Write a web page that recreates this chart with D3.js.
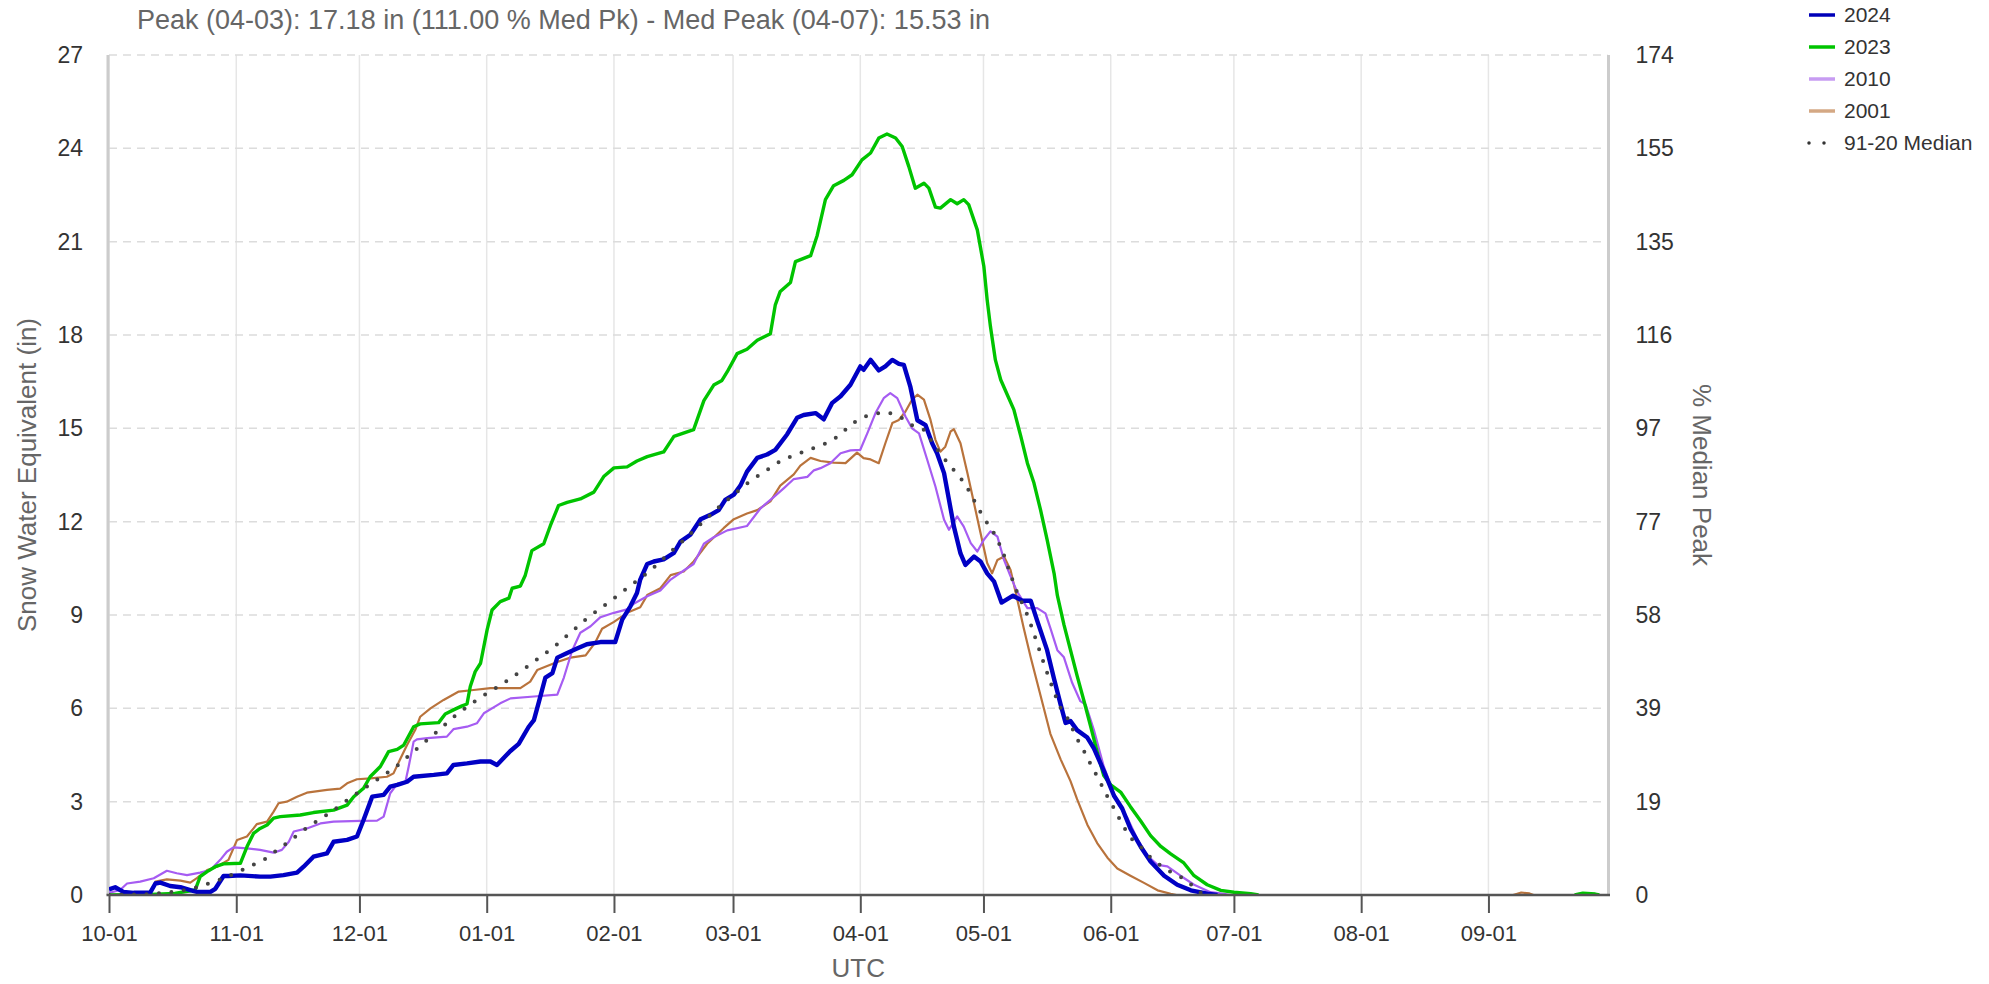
<!DOCTYPE html>
<html>
<head>
<meta charset="utf-8">
<script src="https://cdn.jsdelivr.net/npm/d3@7"></script>
<style>
  html, body { margin: 0; padding: 0; background: #fff; }
  svg { display: block; font-family: "Liberation Sans", Arial, sans-serif; }
</style>
</head>
<body>
<svg id="chart" width="1989" height="984"></svg>
<script>
// ---------------- DATA (day offset from 2023-10-01, SWE inches) ----------------
const titleText = "Peak (04-03): 17.18 in (111.00 % Med Pk) - Med Peak (04-07): 15.53 in";
const medianPeak = 15.53;
const yTicks = [0, 3, 6, 9, 12, 15, 18, 21, 24, 27];
const seriesNames = ["2024", "2023", "2010", "2001", "91-20 Median"];

const s2024 = [[0,0.18],[1.5,0.25],[3.5,0.1],[6,0.07],[10,0.07],[11.3,0.37],[12.5,0.4],[14.9,0.29],[17.4,0.25],[19.8,0.16],[21.4,0.1],[24.7,0.1],[25.9,0.2],[27.9,0.61],[29.1,0.61],[32,0.63],[36.8,0.59],[39.3,0.59],[42.5,0.64],[45.8,0.72],[47.4,0.91],[49.8,1.23],[53.1,1.34],[54.7,1.71],[58,1.77],[60.4,1.88],[62,2.41],[64.1,3.16],[66.9,3.22],[68.5,3.48],[70.2,3.54],[72.6,3.64],[74.2,3.8],[79.1,3.86],[82.3,3.91],[83.9,4.18],[87.2,4.23],[90.5,4.29],[92.9,4.29],[94.5,4.18],[97.7,4.62],[99.8,4.86],[102.2,5.4],[103.5,5.62],[104.7,6.2],[106.3,6.99],[108,7.13],[109.2,7.63],[111.6,7.78],[114,7.92],[116.4,8.06],[119.7,8.13],[123.3,8.13],[125,8.85],[127,9.28],[128.6,9.71],[129.4,10.14],[131.1,10.64],[132.7,10.72],[135.1,10.79],[137.6,11.0],[139.2,11.36],[141.6,11.58],[144.1,12.08],[146.5,12.22],[148.5,12.37],[150.1,12.7],[152.2,12.87],[153.8,13.16],[155.4,13.61],[157.9,14.05],[160.3,14.16],[162.3,14.31],[165.2,14.81],[167.6,15.34],[169.2,15.43],[172.1,15.49],[174.1,15.29],[176.1,15.81],[178.2,16.03],[180.6,16.4],[183,16.99],[183.8,16.88],[185.5,17.2],[187.5,16.86],[189.1,16.99],[190.8,17.2],[192.4,17.07],[193.6,17.04],[195.2,16.33],[196.9,15.26],[198.9,15.1],[200.5,14.52],[201.7,14.2],[203.4,13.56],[204.6,12.7],[205.8,11.84],[207.4,10.98],[208.6,10.61],[210.7,10.88],[212.3,10.72],[213.9,10.34],[215.6,10.07],[217.4,9.4],[220.2,9.62],[222.4,9.46],[224.5,9.46],[226.1,8.81],[228.5,7.87],[230.2,6.94],[231.8,6.12],[233,5.53],[234.2,5.59],[235.8,5.3],[238.3,5.06],[239.9,4.71],[242.3,4.0],[244.8,3.19],[246.8,2.78],[248.8,2.13],[251.3,1.55],[253.7,1.08],[257,0.62],[260.2,0.33],[263.5,0.15],[267.5,0.04],[270,0]];

const s2023 = [[0,0],[10,0.02],[16,0.05],[21,0.16],[22.2,0.59],[23.9,0.75],[25.9,0.91],[27.9,1.0],[32,1.02],[33.6,1.55],[35.2,1.98],[36.8,2.14],[38.5,2.25],[40.1,2.47],[41.7,2.52],[46.6,2.57],[49.8,2.65],[54.7,2.73],[58,2.89],[59.6,3.16],[62,3.43],[63.6,3.8],[66.1,4.13],[68.1,4.61],[70.2,4.68],[71.8,4.82],[74.2,5.41],[75.8,5.5],[80.3,5.54],[81.9,5.82],[83.9,5.95],[86,6.08],[87.2,6.14],[88,6.7],[89.2,7.18],[90.5,7.45],[92.1,8.52],[93.3,9.16],[95.3,9.43],[97.4,9.54],[98.2,9.86],[100.2,9.93],[101.4,10.28],[103,11.07],[105.9,11.29],[107.5,11.87],[109.5,12.52],[111.6,12.62],[114.8,12.73],[118.1,12.95],[120.5,13.45],[123,13.73],[126.2,13.76],[128.6,13.95],[131.1,14.09],[135.1,14.24],[137.6,14.74],[142.4,14.96],[144.9,15.89],[147.3,16.39],[149.3,16.54],[150.6,16.82],[153,17.4],[155.4,17.54],[157.9,17.83],[161.1,18.04],[162.3,18.97],[163.5,19.4],[166,19.69],[167.2,20.36],[170.9,20.55],[172.5,21.2],[174.5,22.35],[176.5,22.8],[179,22.97],[181,23.15],[183.4,23.63],[185.5,23.85],[187.5,24.33],[189.5,24.46],[191.6,24.33],[193.2,24.06],[194.8,23.42],[196.4,22.72],[198.5,22.88],[199.7,22.72],[201.3,22.11],[202.5,22.08],[205,22.35],[206.6,22.22],[208.2,22.35],[209.4,22.19],[211.5,21.38],[213.1,20.2],[213.9,19.13],[214.7,18.27],[215.9,17.2],[217.2,16.56],[218.8,16.08],[220.4,15.6],[222.1,14.74],[223.7,13.88],[225.3,13.24],[226.9,12.38],[228.5,11.42],[230.2,10.34],[231,9.63],[232.6,8.69],[234.2,7.87],[235.8,7.05],[237.5,6.23],[239.1,5.42],[240.7,4.6],[242.3,3.84],[244,3.54],[246.4,3.31],[248.8,2.84],[251.3,2.38],[253.7,1.91],[256.2,1.56],[258.6,1.32],[261.8,1.03],[264.3,0.62],[267.5,0.33],[270.8,0.15],[274,0.09],[278.1,0.04],[280,0],[281,null],[357,0],[359,0.06],[362,0.03],[363,0]];

const s2010 = [[0,0.07],[2.7,0.16],[4.4,0.37],[7.6,0.43],[10.9,0.54],[14.1,0.78],[16.5,0.7],[19,0.64],[22.2,0.72],[24.7,0.8],[27.1,1.13],[28.7,1.39],[30.3,1.53],[33.6,1.5],[36.8,1.45],[40.1,1.36],[42.1,1.45],[43.8,1.71],[45,2.04],[48.2,2.14],[51.5,2.3],[54.7,2.36],[61.2,2.38],[65.3,2.39],[66.9,2.52],[68.5,3.27],[70.2,3.57],[72.2,3.64],[73,4.13],[74.2,4.93],[75,5.0],[77.5,5.04],[82.3,5.09],[83.9,5.33],[87.2,5.41],[89.6,5.52],[91.3,5.84],[95.3,6.16],[97.8,6.32],[103.5,6.38],[109.2,6.44],[110.8,6.99],[112.8,7.85],[114.8,8.43],[117.3,8.64],[119.7,8.93],[123,9.07],[126.2,9.18],[127.8,9.36],[131.1,9.6],[134.3,9.79],[136.8,10.14],[140,10.43],[142.4,10.64],[144.9,11.29],[147.3,11.5],[150.6,11.72],[155.4,11.86],[158.7,12.43],[161.9,12.79],[164.4,13.08],[166.8,13.37],[170.1,13.44],[171.7,13.65],[173.3,13.72],[175.7,13.88],[178.2,14.2],[180.6,14.29],[183,14.31],[184.7,14.84],[186.7,15.49],[188.7,15.97],[190.3,16.13],[192,15.97],[194,15.38],[195.6,15.0],[197.3,14.84],[199.3,13.99],[201.3,13.13],[203.4,12.06],[204.6,11.74],[206.6,12.17],[208.2,11.84],[209.9,11.31],[211.5,11.04],[213.1,11.42],[214.7,11.69],[216.4,11.52],[218,10.77],[219.6,10.24],[221.2,9.75],[223.7,9.22],[226.1,9.22],[228.1,9.05],[229.3,8.58],[231,7.87],[232.6,7.64],[234.6,6.82],[236.6,6.23],[237.9,6.12],[239.9,5.3],[242.3,4.13],[244,3.54],[245.6,2.96],[248,2.49],[250.5,1.79],[252.9,1.27],[255.4,0.97],[257.8,0.92],[261,0.62],[264.3,0.33],[268.3,0.09],[271.6,0.04],[273,0]];

const s2001 = [[0,0],[10,0.03],[11.3,0.43],[14.1,0.5],[17.4,0.46],[19.8,0.4],[21.4,0.54],[23.9,0.8],[26.3,0.91],[29.1,1.13],[31.2,1.77],[33.6,1.88],[35.2,2.14],[36,2.28],[38.5,2.36],[40.1,2.68],[41.3,2.95],[43.3,3.0],[45.8,3.16],[48.2,3.29],[53.1,3.38],[56.3,3.42],[58,3.59],[60.4,3.72],[63.7,3.75],[67.7,3.8],[69.3,3.91],[71,4.39],[72.6,4.82],[74.6,5.31],[75.8,5.73],[78.3,6.0],[81.5,6.27],[85.2,6.54],[88.8,6.59],[92.9,6.65],[100.2,6.65],[102.6,6.86],[104.3,7.23],[107.5,7.4],[109.2,7.49],[112.4,7.63],[116.1,7.7],[118.5,8.13],[120.1,8.56],[123,8.78],[126.2,9.07],[129.4,9.25],[131.1,9.64],[134.3,9.86],[136.8,10.28],[140,10.4],[142.4,10.72],[145.7,11.29],[149.7,11.79],[152.2,12.08],[155.4,12.26],[157.9,12.37],[161.1,12.65],[163.5,13.16],[166.8,13.52],[168.4,13.8],[170.9,14.05],[173.3,13.95],[176.5,13.9],[179.4,13.88],[182.2,14.22],[183.8,14.04],[185.5,14.0],[187.5,13.88],[189.1,14.52],[190.8,15.17],[192.4,15.27],[194,15.54],[195.6,15.92],[196.9,16.08],[198.5,15.92],[200.1,15.27],[201.3,14.63],[202.5,14.25],[203.7,14.41],[205,14.9],[205.8,14.97],[207.4,14.52],[209.1,13.56],[210.7,12.59],[212.3,11.63],[213.9,10.67],[215.1,10.34],[216.4,10.77],[218,10.88],[219.6,10.45],[221.2,9.52],[222.8,8.58],[224.5,7.64],[226.1,6.82],[227.7,6.0],[229.3,5.18],[231.8,4.36],[234.2,3.66],[235.8,3.08],[238.3,2.26],[240.7,1.67],[243.2,1.2],[245.6,0.85],[248.8,0.62],[252.1,0.39],[255.4,0.15],[258.6,0.04],[260,0],[261,null],[342,0],[344,0.08],[346,0.05],[347,0]];

const sMedian = [[0,0],[10,0.03],[13.7,0.07],[19.8,0.18],[26.3,0.45],[32.1,0.78],[37.9,1.15],[43.2,1.66],[48.4,2.18],[53.9,2.65],[59.2,3.16],[64.6,3.64],[70,4.13],[74.8,4.68],[79.9,5.25],[84.8,5.82],[90.1,6.32],[95.7,6.77],[101,7.26],[106.3,7.77],[109,8.04],[116.3,8.88],[121.5,9.39],[131.9,10.43],[140.8,11.51],[143.7,11.87],[148.9,12.51],[155.9,13.28],[164,13.99],[173.3,14.45],[176.1,14.6],[178.6,14.86],[181.1,15.16],[183.8,15.37],[187,15.48],[189,15.53],[190.1,15.5],[193.1,15.33],[195.6,15.1],[198.5,14.95],[200.5,14.57],[202.1,14.25],[204.2,13.9],[206.4,13.56],[208.4,13.24],[210,12.86],[211.5,12.49],[213.1,12.11],[215.1,11.74],[216.6,11.36],[218,10.92],[219.6,10.3],[221.2,9.73],[223.9,8.94],[226,8.12],[228.1,7.29],[230.3,6.48],[231.8,6.01],[233.6,5.66],[235,5.25],[236.5,4.84],[238.1,4.49],[239.5,4.08],[241.1,3.73],[242.5,3.32],[244.1,2.96],[245.7,2.55],[247.4,2.14],[249.2,1.79],[251.7,1.5],[253.7,1.2],[256.5,0.91],[259.4,0.68],[262.2,0.5],[265.5,0.1],[267.5,0]];

// ---------------- LAYOUT ----------------
const svg = d3.select("#chart");
const W = 1989, H = 984;
const plot = { left: 109, right: 1607.5, top: 55, bottom: 895 };
const start = new Date(Date.UTC(2023, 9, 1));
const end = new Date(Date.UTC(2024, 8, 30));
const toDate = d => new Date(start.getTime() + d * 864e5);

const x = d3.scaleUtc().domain([start, end]).range([plot.left, plot.right]);
const y = d3.scaleLinear().domain([0, 27]).range([plot.bottom, plot.top]);
const yPct = d3.scaleLinear().domain([0, 27 / medianPeak * 100]).range([plot.bottom, plot.top]);
const monthTicks = d3.utcMonths(start, new Date(Date.UTC(2024, 8, 2)));

// vertical grid (months)
svg.append("g").selectAll("line").data(monthTicks).join("line")
  .attr("x1", d => x(d)).attr("x2", d => x(d))
  .attr("y1", plot.top).attr("y2", plot.bottom)
  .attr("stroke", "#e6e6e6").attr("stroke-width", 1.5);

// horizontal dashed grid
svg.append("g").selectAll("line").data(yTicks.filter(v => v > 0)).join("line")
  .attr("x1", plot.left).attr("x2", plot.right)
  .attr("y1", d => y(d)).attr("y2", d => y(d))
  .attr("stroke", "#dcdcdc").attr("stroke-width", 1.5)
  .attr("stroke-dasharray", "8,6");

// plot borders left / right
svg.append("line").attr("x1", plot.left - 1).attr("x2", plot.left - 1)
  .attr("y1", plot.top).attr("y2", plot.bottom)
  .attr("stroke", "#cccccc").attr("stroke-width", 3);
svg.append("line").attr("x1", plot.right + 1).attr("x2", plot.right + 1)
  .attr("y1", plot.top).attr("y2", plot.bottom)
  .attr("stroke", "#cccccc").attr("stroke-width", 3);

// clip
svg.append("defs").append("clipPath").attr("id", "clip")
  .append("rect").attr("x", plot.left).attr("y", plot.top - 5)
  .attr("width", plot.right - plot.left).attr("height", plot.bottom - plot.top + 4);

const line = d3.line()
  .defined(d => d[1] !== null)
  .x(d => x(toDate(d[0])))
  .y(d => y(d[1]));

const series = [
  { name: "2001", data: s2001, color: "#b9733c", width: 2.2 },
  { name: "2010", data: s2010, color: "#a65cf2", width: 2.2 },
  { name: "2023", data: s2023, color: "#00c400", width: 3.4 },
  { name: "2024", data: s2024, color: "#0000c4", width: 4.4 },
];

const gLines = svg.append("g").attr("clip-path", "url(#clip)");
series.forEach(s => {
  gLines.append("path").datum(s.data)
    .attr("d", line)
    .attr("fill", "none")
    .attr("stroke", s.color)
    .attr("stroke-width", s.width)
    .attr("stroke-linejoin", "round");
});
gLines.append("path").datum(sMedian)
  .attr("d", line)
  .attr("fill", "none")
  .attr("stroke", "#444")
  .attr("stroke-width", 4)
  .attr("stroke-linecap", "round")
  .attr("stroke-dasharray", "0,12.5");

// bottom axis
const xAxis = d3.axisBottom(x).tickValues(monthTicks)
  .tickFormat(d3.utcFormat("%m-%d")).tickSize(18).tickPadding(12);
const gx = svg.append("g").attr("transform", `translate(0,${plot.bottom})`).call(xAxis);
gx.select(".domain").attr("stroke", "#555").attr("stroke-width", 2.5)
  .attr("d", `M${plot.left - 2.5},0H${plot.right + 2.5}`);
gx.selectAll(".tick line").attr("stroke", "#555").attr("stroke-width", 2);
gx.selectAll(".tick text").attr("fill", "#333").style("font-size", "22px")
  .style("font-family", "'Liberation Sans', Arial, sans-serif");

// left axis
const yAxisL = d3.axisLeft(y).tickValues(yTicks).tickSize(0).tickPadding(26);
const gyl = svg.append("g").attr("transform", `translate(${plot.left},0)`).call(yAxisL);
gyl.select(".domain").remove();
gyl.selectAll(".tick text").attr("fill", "#333").style("font-size", "23px")
  .style("font-family", "'Liberation Sans', Arial, sans-serif");

// right axis (% of median peak)
const yAxisR = d3.axisRight(yPct).tickValues(yTicks.map(v => v / medianPeak * 100))
  .tickFormat(d3.format(".0f")).tickSize(0).tickPadding(28);
const gyr = svg.append("g").attr("transform", `translate(${plot.right},0)`).call(yAxisR);
gyr.select(".domain").remove();
gyr.selectAll(".tick text").attr("fill", "#333").style("font-size", "23px")
  .style("font-family", "'Liberation Sans', Arial, sans-serif");

// axis titles
svg.append("text")
  .attr("transform", `translate(36,${(plot.top + plot.bottom) / 2}) rotate(-90)`)
  .attr("text-anchor", "middle").attr("fill", "#666").style("font-size", "26px")
  .text("Snow Water Equivalent (in)");
svg.append("text")
  .attr("transform", `translate(1693,${(plot.top + plot.bottom) / 2}) rotate(90)`)
  .attr("text-anchor", "middle").attr("fill", "#666").style("font-size", "26px")
  .text("% Median Peak");
svg.append("text")
  .attr("x", (plot.left + plot.right) / 2).attr("y", 977)
  .attr("text-anchor", "middle").attr("fill", "#666").style("font-size", "26px")
  .text("UTC");

// title
svg.append("text").attr("x", 137).attr("y", 29)
  .attr("fill", "#666").style("font-size", "27px")
  .text(titleText);

// legend
const legendItems = [
  { name: seriesNames[0], color: "#0000b8", dash: null },
  { name: seriesNames[1], color: "#00c400", dash: null },
  { name: seriesNames[2], color: "#c79cf2", dash: null },
  { name: seriesNames[3], color: "#d4a884", dash: null },
  { name: seriesNames[4], color: "#333", dash: "0,15" },
];
const lg = svg.append("g");
legendItems.forEach((it, i) => {
  const yy = 15 + i * 32;
  const l = lg.append("line").attr("x1", 1809).attr("x2", 1835)
    .attr("y1", yy).attr("y2", yy)
    .attr("stroke", it.color);
  if (it.dash) {
    l.attr("stroke-width", 3.5).attr("stroke-linecap", "round").attr("stroke-dasharray", it.dash)
      .attr("x1", 1809).attr("x2", 1825);
  } else {
    l.attr("stroke-width", 3.5);
  }
  lg.append("text").attr("x", 1844).attr("y", yy).attr("dy", "0.35em")
    .attr("fill", "#333").style("font-size", "21px").text(it.name);
});
</script>
</body>
</html>
